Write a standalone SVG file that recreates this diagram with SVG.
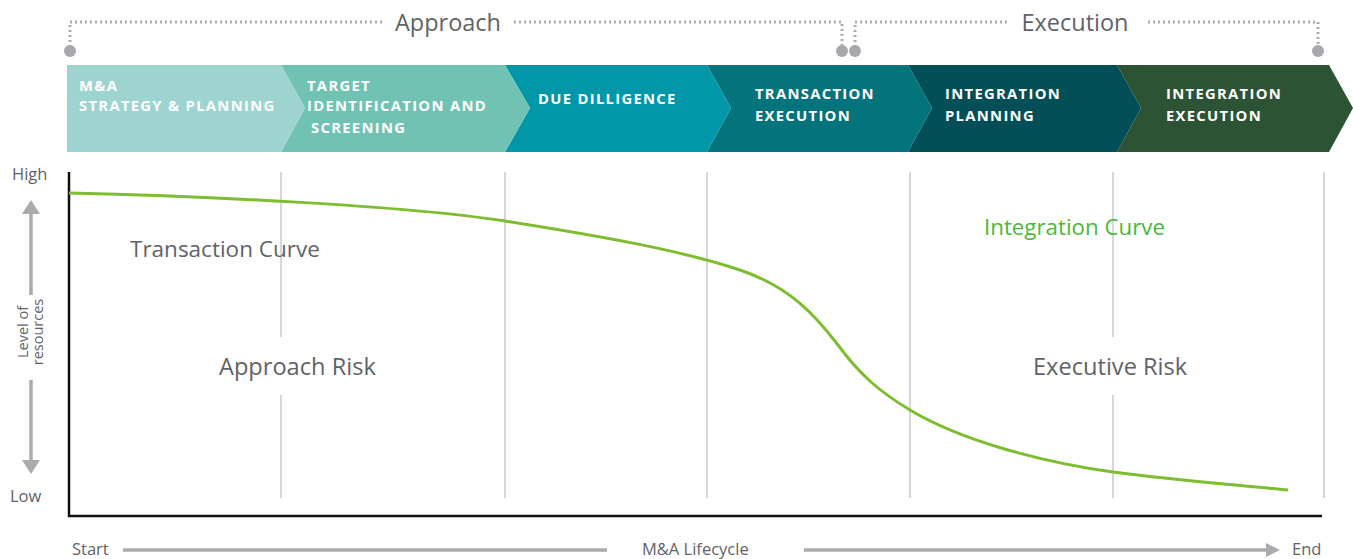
<svg xmlns="http://www.w3.org/2000/svg" width="1353" height="559" viewBox="0 0 1353 559">
  <style>
    .lbl { font-family: "Open Sans", "Liberation Sans", sans-serif; fill: #5f6368; }
    .phase { font-family: "Open Sans", "Liberation Sans", sans-serif; font-weight: 700; font-size: 14.8px; letter-spacing: 1.3px; fill: #ffffff; }
    .dots { fill: none; stroke: #adaeb2; stroke-width: 3; stroke-dasharray: 2 3; }
    .knob { fill: #a7a8ac; }
    .grid { stroke: #c9cacc; stroke-width: 1.5; }
    .axis { stroke: #111111; stroke-width: 2.5; fill: none; }
    .guide { stroke: #aaabae; stroke-width: 3.5; fill: none; }
    .guidehead { fill: #aaabae; }
  </style>

  <!-- phase brackets -->
  <g id="approach-bracket">
    <path class="dots" d="M70,47 V22 H384"/>
    <path class="dots" d="M514,22 H842 V47"/>
    <circle class="knob" cx="70" cy="51" r="6"/>
    <circle class="knob" cx="842" cy="51" r="6"/>
    <text class="lbl" x="448" y="31" font-size="23.5" text-anchor="middle">Approach</text>
  </g>
  <g id="execution-bracket">
    <path class="dots" d="M855,47 V22 H1007"/>
    <path class="dots" d="M1148,22 H1318 V47"/>
    <circle class="knob" cx="855" cy="51" r="6"/>
    <circle class="knob" cx="1318" cy="51" r="6"/>
    <text class="lbl" x="1075" y="31" font-size="23.5" text-anchor="middle">Execution</text>
  </g>

  <!-- phase chevrons (drawn right to left so each point overlaps the next) -->
  <g id="phase-6">
    <path d="M1117,65 H1329 L1353,108 L1329,152 H1117 L1141,108 Z" fill="#2c5334"/>
    <text class="phase" x="1166" y="99">INTEGRATION</text>
    <text class="phase" x="1166" y="121">EXECUTION</text>
  </g>
  <g id="phase-5">
    <path d="M908,65 H1117 L1141,108 L1117,152 H908 L932,108 Z" fill="#024f58"/>
    <text class="phase" x="945" y="99">INTEGRATION</text>
    <text class="phase" x="945" y="121">PLANNING</text>
  </g>
  <g id="phase-4">
    <path d="M707,65 H908 L932,108 L908,152 H707 L731,108 Z" fill="#03737c"/>
    <text class="phase" x="755" y="99">TRANSACTION</text>
    <text class="phase" x="755" y="121">EXECUTION</text>
  </g>
  <g id="phase-3">
    <path d="M505,65 H707 L731,108 L707,152 H505 L530,108 Z" fill="#0197a8"/>
    <text class="phase" x="538" y="104">DUE DILLIGENCE</text>
  </g>
  <g id="phase-2">
    <path d="M281,65 H505 L530,108 L505,152 H281 L305,108 Z" fill="#70c3b3"/>
    <text class="phase" x="307" y="91">TARGET</text>
    <text class="phase" x="307" y="111">IDENTIFICATION AND</text>
    <text class="phase" x="311" y="133">SCREENING</text>
  </g>
  <g id="phase-1">
    <path d="M67,65 H281 L305,108 L281,152 H67 Z" fill="#9ed4cf"/>
    <text class="phase" x="79" y="91">M&amp;A</text>
    <text class="phase" x="79" y="111">STRATEGY &amp; PLANNING</text>
  </g>

  <!-- grid -->
  <g id="grid">
    <line class="grid" x1="281" y1="172" x2="281" y2="337"/>
    <line class="grid" x1="281" y1="395" x2="281" y2="498"/>
    <line class="grid" x1="505" y1="172" x2="505" y2="498"/>
    <line class="grid" x1="707" y1="172" x2="707" y2="498"/>
    <line class="grid" x1="910" y1="172" x2="910" y2="498"/>
    <line class="grid" x1="1113" y1="172" x2="1113" y2="337"/>
    <line class="grid" x1="1113" y1="395" x2="1113" y2="498"/>
    <line class="grid" x1="1324" y1="172" x2="1324" y2="498"/>
  </g>

  <!-- axes -->
  <g id="axes">
    <path class="axis" d="M69,172 V516 H1322"/>
  </g>

  <!-- resource curve -->
  <g id="curve">
    <path d="M69,193 C200,196 400,205 505,221 C600,236 680,250 740,270 C790,287 815,315 838,345 C860,375 880,392 910,410 C960,440 1040,462 1113,472 C1180,481 1240,485 1288,490" fill="none" stroke="#7dbd2f" stroke-width="3"/>
  </g>

  <!-- y-axis guide -->
  <g id="y-guide">
    <text class="lbl" x="12" y="180" font-size="16.5">High</text>
    <text class="lbl" x="10" y="502" font-size="16.5">Low</text>
    <line class="guide" x1="31" y1="212" x2="31" y2="295"/>
    <path class="guidehead" d="M31,200 L40,214 H22 Z"/>
    <line class="guide" x1="31" y1="380" x2="31" y2="462"/>
    <path class="guidehead" d="M31,474 L40,460 H22 Z"/>
    <text class="lbl" font-size="14.5" text-anchor="middle" transform="translate(28,332) rotate(-90)">Level of</text>
    <text class="lbl" font-size="14.5" text-anchor="middle" transform="translate(43,332) rotate(-90)">resources</text>
  </g>

  <!-- chart labels -->
  <g id="labels">
    <text class="lbl" x="130" y="257" font-size="22.5">Transaction Curve</text>
    <text class="lbl" x="219" y="375" font-size="23.6">Approach Risk</text>
    <text class="lbl" x="1033" y="375" font-size="23.6">Executive Risk</text>
    <text x="984" y="235" font-size="22.3" font-family="Open Sans, Liberation Sans, sans-serif" fill="#4cb63c">Integration Curve</text>
  </g>

  <!-- lifecycle axis -->
  <g id="x-guide">
    <text class="lbl" x="72" y="555" font-size="16.5">Start</text>
    <line class="guide" x1="123" y1="550" x2="607" y2="550"/>
    <text class="lbl" x="642" y="555" font-size="16.5">M&amp;A Lifecycle</text>
    <line class="guide" x1="804" y1="550" x2="1268" y2="550"/>
    <path class="guidehead" d="M1280,550 L1266,543 V557 Z"/>
    <text class="lbl" x="1292" y="555" font-size="16.5">End</text>
  </g>
</svg>
